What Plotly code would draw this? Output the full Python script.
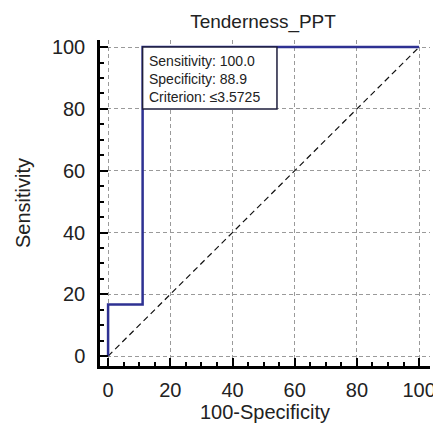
import plotly.graph_objects as go

# ROC curve points (100-Specificity, Sensitivity)
fpr = [0, 0, 11.1, 11.1, 100]
tpr = [0, 16.7, 16.7, 100, 100]
diag = [0, 100]
tick_vals = [0, 20, 40, 60, 80, 100]
box_lines = ["Sensitivity: 100.0", "Specificity: 88.9", "Criterion: \u22643.5725"]

FONT = "Liberation Sans, Arial, sans-serif"
TXT = "#222222"
LINE_BLUE = "#2E3192"

fig = go.Figure()
fig.add_trace(go.Scatter(
    x=diag, y=diag, mode="lines",
    line=dict(color="#111111", width=1.2, dash="6px,4px"),
    showlegend=False, hoverinfo="skip",
))
fig.add_trace(go.Scatter(
    x=fpr, y=tpr, mode="lines",
    line=dict(color=LINE_BLUE, width=2.5),
    showlegend=False,
))

# info box
fig.add_shape(type="rect", x0=11.1, x1=54.3, y0=80, y1=100,
              line=dict(color="#1e1e3c", width=1.5), fillcolor="white", layer="above")
fig.add_annotation(x=12.6, y=98.8, text="<br>".join(box_lines), showarrow=False,
                   xanchor="left", yanchor="top", align="left",
                   font=dict(family=FONT, size=14, color=TXT))

axis_common = dict(
    tickvals=tick_vals, ticks="inside", ticklen=8, tickwidth=2, tickcolor="black",
    showline=True, linecolor="black", linewidth=2.5, mirror=False,
    showgrid=True, gridcolor="#9a9a9a", gridwidth=1, griddash="4px,3px",
    zeroline=False, automargin=False,
    tickfont=dict(family=FONT, size=20, color=TXT),
    minor=dict(dtick=5, tick0=0, ticks="inside", ticklen=4, tickwidth=1.5,
               tickcolor="black", showgrid=False),
)

# page body has an 8px margin, so the figure is sized a bit smaller
fig.update_layout(
    width=433, height=423,
    margin=dict(l=92, r=11, t=32, b=65, autoexpand=False),
    paper_bgcolor="white", plot_bgcolor="white",
    title=dict(text="Tenderness_PPT", x=0.589, xanchor="center", y=0.968, yanchor="middle",
               automargin=False, font=dict(family=FONT, size=19, color=TXT)),
    xaxis=dict(range=[-2.6, 103.5], ticklabelstandoff=4,
               title=dict(text="100-Specificity", standoff=6,
                          font=dict(family=FONT, size=20, color=TXT)),
               **axis_common),
    yaxis=dict(range=[-3.2, 102.3], ticklabelstandoff=8,
               title=dict(text="Sensitivity", standoff=16,
                          font=dict(family=FONT, size=20, color=TXT)),
               **axis_common),
)

fig.write_html("out.html")
